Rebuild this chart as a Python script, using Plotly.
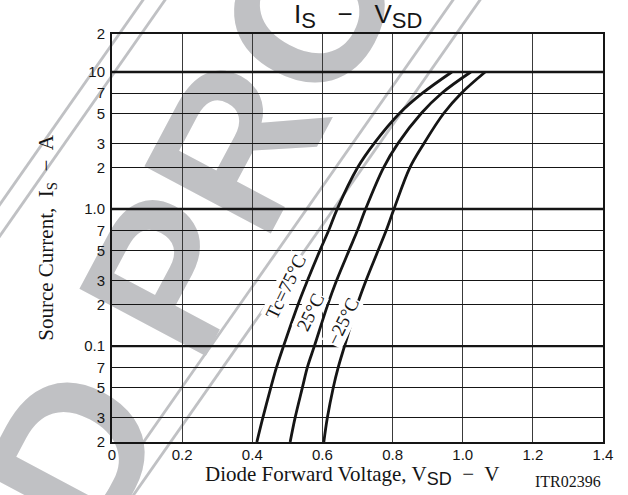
import numpy as np
import plotly.graph_objects as go

# ---------------- data ----------------
current = [0.02, 0.03, 0.05, 0.07, 0.1, 0.2, 0.3, 0.5, 0.7, 1.0, 2, 3, 5, 7, 10]
v_tc75 = [0.413, 0.430, 0.453, 0.469, 0.489, 0.530, 0.557, 0.593, 0.618, 0.642, 0.700, 0.747, 0.820, 0.885, 0.969]
v_tc25 = [0.508, 0.522, 0.543, 0.557, 0.577, 0.615, 0.640, 0.676, 0.700, 0.723, 0.774, 0.815, 0.882, 0.940, 1.023]
v_tcm25 = [0.604, 0.614, 0.631, 0.645, 0.663, 0.699, 0.724, 0.759, 0.782, 0.804, 0.849, 0.889, 0.946, 0.996, 1.064]

x_ticks = [0, 0.2, 0.4, 0.6, 0.8, 1.0, 1.2, 1.4]
x_ticktext = ["0", "0.2", "0.4", "0.6", "0.8", "1.0", "1.2", "1.4"]
y_top = 10 ** 1.277
y_ticks = [0.02, 0.03, 0.05, 0.07, 0.1, 0.2, 0.3, 0.5, 0.7, 1.0, 2, 3, 5, 7, 10, y_top]
y_ticktext = ["2", "3", "5", "7", "0.1", "2", "3", "5", "7", "1.0", "2", "3", "5", "7", "10", "2"]
decades = [0.1, 1.0, 10]

curve_labels = ["Tc=75°C", "25°C", "−25°C"]
label_x = [0.495, 0.565, 0.658]
label_y = [0.273, 0.176, 0.151]

# ---------------- styling ----------------
SERIF = "Liberation Serif"
SANS = "Liberation Sans"
WM = "#c0c1c4"
INK = "#151515"

fig = go.Figure()
# heavier decade grid lines
for d in decades:
    fig.add_trace(go.Scatter(x=[0, 1.4], y=[d, d], mode="lines",
                             line=dict(color=INK, width=2.4), hoverinfo="skip", showlegend=False))
for xs in (v_tc75, v_tc25, v_tcm25):
    fig.add_trace(go.Scatter(x=xs, y=current, mode="lines",
                             line=dict(color=INK, width=2.8, shape="spline", smoothing=1.0),
                             hoverinfo="skip", showlegend=False))

shapes = []
# watermark (drawn below the grid)
def px2paper(px, py):
    return (px - 112) / 491.0, (442 - py) / 408.0

for xt in (143, 165, 453, 480):
    a0 = px2paper(xt + 0.7 * 10, -10)
    a1 = px2paper(xt - 0.7 * 510, 510)
    shapes.append(dict(type="line", xref="paper", yref="paper", x0=a0[0], y0=a0[1], x1=a1[0], y1=a1[1],
                       line=dict(width=2.8, color=WM), layer="below"))

ang = np.deg2rad(62)
ux, uy = np.cos(ang), -np.sin(ang)
cx, cy = 278, 24
L = 320
x0, y0 = px2paper(cx - L * ux, cy - L * uy)
x1, y1 = px2paper(cx + L * ux, cy + L * uy)
shapes.append(dict(type="line", xref="paper", yref="paper", x0=x0, y0=y0, x1=x1, y1=y1,
                   line=dict(width=0, color="rgba(0,0,0,0)"), layer="below",
                   label=dict(text="<b>ED PRODUCT</b>", textposition="middle", yanchor="middle",
                              textangle=-62,
                              font=dict(family=SANS, size=208, color=WM))))

annotations = []
for t, lx, ly in zip(curve_labels, label_x, label_y):
    annotations.append(dict(text=t, x=lx, y=np.log10(ly), xref="x", yref="y", showarrow=False,
                            textangle=-64, bgcolor="white", borderpad=0,
                            font=dict(family=SERIF, size=19, color=INK)))

annotations.append(dict(text="I<sub><span style='font-size:22px'>S</span></sub>   −   V<sub><span style='font-size:22px'>SD</span></sub>",
                        x=0.5, y=1.044, xref="paper", yref="paper", showarrow=False,
                        xanchor="center", yanchor="middle",
                        font=dict(family=SANS, size=26, color=INK)))
annotations.append(dict(text="Diode Forward Voltage, V<sub><span style='font-family:Liberation Sans;font-size:18px'>SD</span></sub>  −  V",
                        x=0.489, y=-0.081, xref="paper", yref="paper", showarrow=False,
                        xanchor="center", yanchor="middle",
                        font=dict(family=SERIF, size=21, color=INK)))
annotations.append(dict(text="ITR02396", x=1.0, y=-0.097, xref="paper", yref="paper", showarrow=False,
                        xanchor="right", yanchor="middle",
                        font=dict(family=SERIF, size=16, color=INK)))
annotations.append(dict(text="Source Current,  I<sub>S</sub>  −  A", x=-0.1330, y=0.50,
                        xref="paper", yref="paper", showarrow=False, textangle=-90,
                        xanchor="center", yanchor="middle",
                        font=dict(family=SERIF, size=21, color=INK)))

fig.update_layout(
    width=628, height=495,
    margin=dict(l=112, r=25, t=34, b=53),
    paper_bgcolor="white", plot_bgcolor="rgba(0,0,0,0)",
    shapes=shapes, annotations=annotations,
    font=dict(family=SANS, size=15, color=INK),
)
fig.update_xaxes(range=[0, 1.4], tickvals=x_ticks, ticktext=x_ticktext,
                 showgrid=True, gridcolor="#3a3a3a", gridwidth=1.2, zeroline=False,
                 showline=True, linecolor=INK, linewidth=2, mirror=True,
                 ticks="", ticklabelstandoff=-2, tickfont=dict(family=SANS, size=15, color=INK))
fig.update_yaxes(type="log", range=[np.log10(0.02), 1.277], tickvals=y_ticks, ticktext=y_ticktext,
                 showgrid=True, gridcolor=INK, gridwidth=1.3, zeroline=False,
                 showline=True, linecolor=INK, linewidth=2, mirror=True,
                 ticks="", ticklabelstandoff=2, tickfont=dict(family=SANS, size=15, color=INK))

fig.write_html("out.html", config={"displayModeBar": False},
               post_script="document.body.style.margin='0px';")
